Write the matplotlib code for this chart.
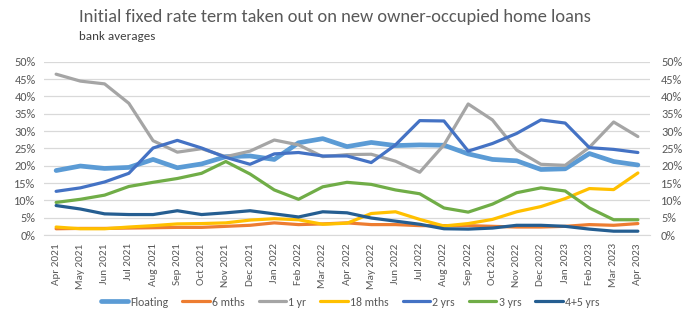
import matplotlib
matplotlib.use("Agg")
import matplotlib.pyplot as plt
from matplotlib.ticker import FuncFormatter, MultipleLocator

plt.rcParams['font.family'] = ['Carlito', 'Lato', 'DejaVu Sans']

months = ["Apr 2021", "May 2021", "Jun 2021", "Jul 2021", "Aug 2021", "Sep 2021",
          "Oct 2021", "Nov 2021", "Dec 2021", "Jan 2022", "Feb 2022", "Mar 2022",
          "Apr 2022", "May 2022", "Jun 2022", "Jul 2022", "Aug 2022", "Sep 2022",
          "Oct 2022", "Nov 2022", "Dec 2022", "Jan 2023", "Feb 2023", "Mar 2023",
          "Apr 2023"]

floating = [18.6, 19.9, 19.2, 19.5, 21.8, 19.4, 20.5, 22.6, 22.8, 21.8, 26.6, 27.8,
            25.5, 26.7, 25.8, 26.0, 25.9, 23.4, 21.8, 21.4, 18.9, 19.1, 23.5, 21.2, 20.2]
six_mths = [1.8, 1.9, 1.9, 2.0, 2.1, 2.2, 2.2, 2.5, 2.8, 3.5, 3.0, 3.2,
            3.5, 3.0, 3.0, 2.7, 2.7, 2.7, 2.5, 2.3, 2.3, 2.5, 3.0, 2.8, 3.3]
one_yr = [46.4, 44.4, 43.6, 38.0, 27.2, 23.9, 24.9, 22.6, 24.2, 27.4, 26.0, 22.6,
          23.2, 23.3, 21.3, 18.1, 26.0, 37.8, 33.2, 24.5, 20.4, 20.1, 25.3, 32.6, 28.4]
eighteen_mths = [2.3, 1.8, 1.8, 2.3, 2.7, 3.2, 3.3, 3.5, 4.3, 4.7, 4.4, 3.1,
                 3.4, 6.2, 6.7, 4.5, 2.6, 3.3, 4.5, 6.7, 8.2, 10.5, 13.4, 13.1, 17.9]
two_yrs = [12.6, 13.6, 15.3, 17.8, 25.1, 27.3, 25.1, 22.4, 20.4, 23.4, 23.8, 22.8,
           22.8, 20.9, 26.0, 33.0, 32.9, 24.2, 26.4, 29.3, 33.2, 32.3, 25.2, 24.7, 23.8]
three_yrs = [9.4, 10.3, 11.5, 14.0, 15.2, 16.3, 17.8, 21.2, 17.6, 13.0, 10.3, 13.9,
             15.2, 14.6, 13.0, 11.9, 7.8, 6.6, 8.9, 12.2, 13.6, 12.7, 7.8, 4.4, 4.4]
four_five_yrs = [8.5, 7.5, 6.1, 5.9, 5.9, 7.0, 5.9, 6.4, 7.0, 6.1, 5.2, 6.7,
                 6.4, 4.9, 4.0, 3.1, 1.8, 1.7, 2.0, 2.8, 2.8, 2.5, 1.7, 1.1, 1.1]

series = [
    ("Floating", floating, "#5B9BD5", 3.4),
    ("6 mths", six_mths, "#ED7D31", 2.3),
    ("1 yr", one_yr, "#A5A5A5", 2.3),
    ("18 mths", eighteen_mths, "#FFC000", 2.3),
    ("2 yrs", two_yrs, "#4472C4", 2.3),
    ("3 yrs", three_yrs, "#70AD47", 2.3),
    ("4+5 yrs", four_five_yrs, "#255E91", 2.3),
]

fig = plt.figure(figsize=(7, 3.25), dpi=100)
ax = fig.add_axes([44 / 700, 1 - 235 / 325, 606 / 700, (235 - 61.7) / 325])

x = list(range(len(months)))
for name, vals, color, lw in series:
    ax.plot(x, vals, color=color, lw=lw, label=name, solid_capstyle='round',
            solid_joinstyle='round')

ax.set_xlim(-0.5, len(months) - 0.5)
ax.set_ylim(0, 50)
ax.yaxis.set_major_locator(MultipleLocator(5))
ax.yaxis.set_major_formatter(FuncFormatter(lambda v, p: f"{v:.0f}%"))
ax.grid(axis='y', color='#D9D9D9', lw=0.9)
ax.set_axisbelow(True)
for s in ['top', 'left', 'right']:
    ax.spines[s].set_visible(False)
ax.spines['bottom'].set_color('#D9D9D9')
ax.set_xticks(x)
ax.set_xticklabels(months, rotation=90)
ax.tick_params(axis='x', length=0, labelsize=8, labelcolor='#595959', pad=6)
ax.tick_params(axis='y', length=0, labelsize=8.8, labelcolor='#595959', pad=6)

ax2 = ax.twinx()
ax2.set_ylim(0, 50)
ax2.yaxis.set_major_locator(MultipleLocator(5))
ax2.yaxis.set_major_formatter(FuncFormatter(lambda v, p: f"{v:.0f}%"))
ax2.tick_params(axis='y', length=0, labelsize=8.8, labelcolor='#595959', pad=8)
for s in ['top', 'left', 'right', 'bottom']:
    ax2.spines[s].set_visible(False)

fig.text(79 / 700, 1 - 17 / 325, "Initial fixed rate term taken out on new owner-occupied home loans",
         fontsize=13.3, color='#595959', va='center', ha='left')
fig.text(79 / 700, 1 - 37 / 325, "bank averages", fontsize=9.4, color='#404040',
         va='center', ha='left')

handles, labels = ax.get_legend_handles_labels()
fig.legend(handles, labels, loc='center', bbox_to_anchor=(0.5, 1 - 302 / 325), ncol=7,
           frameon=False, fontsize=8.5, handlelength=2.3, handletextpad=0.2,
           columnspacing=1.2, labelcolor='#595959')

fig.savefig("out.png", dpi=100)
